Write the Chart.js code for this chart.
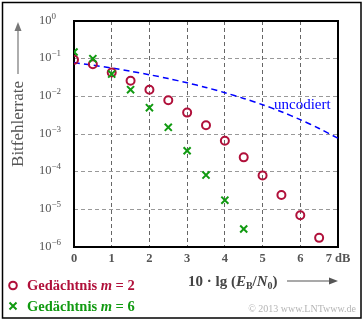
<!DOCTYPE html>
<html>
<head>
<meta charset="utf-8">
<script src="https://cdn.jsdelivr.net/npm/chart.js@4.4.1/dist/chart.umd.min.js"></script>
<style>
  html, body { margin: 0; padding: 0; background: #fff; }
  #wrap { width: 364px; height: 323px; position: relative; }
</style>
</head>
<body>
<div id="wrap"><canvas id="c" width="364" height="323"></canvas></div>
<script>
// Eb/N0 in dB and bit error rates
const snrUncoded = [0, 0.5, 1, 1.5, 2, 2.5, 3, 3.5, 4, 4.5, 5, 5.5, 6, 6.5, 7];
const berUncoded = [0.0786, 0.0671, 0.0563, 0.0464, 0.0375, 0.0296, 0.0229, 0.0172,
                    0.0125, 0.0088, 0.0060, 0.0039, 0.0024, 0.0014, 0.00077];

const snrM2 = [0, 0.5, 1, 1.5, 2, 2.5, 3, 3.5, 4, 4.5, 5, 5.5, 6, 6.5];
const berM2 = [0.093, 0.071, 0.043, 0.026, 0.015, 0.0079, 0.0037, 0.0017,
               0.00066, 0.00024, 7.9e-5, 2.4e-5, 7e-6, 1.75e-6];

const snrM6 = [0, 0.5, 1, 1.5, 2, 2.5, 3, 3.5, 4, 4.5];
const berM6 = [0.15, 0.10, 0.039, 0.015, 0.005, 0.0015, 0.00036, 8.1e-5, 1.75e-5, 3e-6];

const xTickLabels = ['0', '1', '2', '3', '4', '5', '6', '7 dB'];
const yExponents = [0, -1, -2, -3, -4, -5, -6];

const SERIF = '"Liberation Serif", "Times New Roman", serif';
const RED = '#b0103a';
const GREEN = '#119a11';
const BLUE = '#0000ff';

function toPoints(xs, ys) { return xs.map((x, i) => ({ x: x, y: ys[i] })); }

// draw a run of text pieces with individual fonts / vertical offsets
function drawRich(ctx, x, y, parts, color) {
  ctx.save();
  ctx.fillStyle = color;
  ctx.textBaseline = 'alphabetic';
  ctx.textAlign = 'left';
  for (const p of parts) {
    ctx.font = p.font;
    ctx.fillText(p.text, x, y + (p.dy || 0));
    x += ctx.measureText(p.text).width + (p.gap || 0);
  }
  ctx.restore();
  return x;
}

function arrow(ctx, x1, y1, x2, y2, color) {
  ctx.save();
  ctx.strokeStyle = color; ctx.fillStyle = color; ctx.lineWidth = 1.2;
  const a = Math.atan2(y2 - y1, x2 - x1);
  const hl = 9, hw = 3.5;
  const bx = x2 - hl * Math.cos(a), by = y2 - hl * Math.sin(a);
  ctx.beginPath(); ctx.moveTo(x1, y1); ctx.lineTo(bx, by); ctx.stroke();
  ctx.beginPath();
  ctx.moveTo(x2, y2);
  ctx.lineTo(bx + hw * Math.sin(a), by - hw * Math.cos(a));
  ctx.lineTo(bx - hw * Math.sin(a), by + hw * Math.cos(a));
  ctx.closePath(); ctx.fill();
  ctx.restore();
}

const decor = {
  id: 'decor',
  beforeDatasetsDraw(chart) {
    const { ctx, chartArea: a } = chart;
    ctx.save();
    ctx.strokeStyle = '#000';
    ctx.lineWidth = 2;
    ctx.strokeRect(a.left, a.top, a.right - a.left, a.bottom - a.top);
    ctx.restore();
  },
  afterDraw(chart) {
    const { ctx } = chart;
    const ys = chart.scales.y;

    // outer frame
    ctx.save();
    ctx.strokeStyle = '#000';
    ctx.lineWidth = 1.5;
    ctx.strokeRect(2.5, 2.5, 358.5, 315.5);
    ctx.restore();

    // y tick labels 10^k
    for (const e of yExponents) {
      const py = ys.getPixelForValue(Math.pow(10, e));
      const exp = e === 0 ? '0' : '\u2212' + (-e);
      drawRich(ctx, 39, py + 2.8, [
        { text: '10', font: '12.5px ' + SERIF },
        { text: exp, font: '9px ' + SERIF, dy: -5 }
      ], '#555');
    }

    // y axis title with arrow
    arrow(ctx, 18, 74, 18, 22, '#777');
    ctx.save();
    ctx.translate(23, 124);
    ctx.rotate(-Math.PI / 2);
    ctx.fillStyle = '#555';
    ctx.font = '17px ' + SERIF;
    ctx.textAlign = 'center';
    ctx.textBaseline = 'alphabetic';
    ctx.fillText('Bitfehlerrate', 0, 0);
    ctx.restore();

    // x axis title with arrow
    const B = 'bold 15px ' + SERIF, BI = 'italic bold 15px ' + SERIF, S = 'bold 10px ' + SERIF;
    drawRich(ctx, 188, 286, [
      { text: '10 \u00B7 lg (', font: B },
      { text: 'E', font: BI },
      { text: 'B', font: S, dy: 3 },
      { text: '/', font: B },
      { text: 'N', font: BI },
      { text: '0', font: S, dy: 3 },
      { text: ')', font: B }
    ], '#444');
    arrow(ctx, 287, 281, 338, 281, '#555');

    // curve label
    ctx.save();
    ctx.fillStyle = BLUE;
    ctx.font = '15px ' + SERIF;
    ctx.textBaseline = 'alphabetic';
    ctx.fillText('uncodiert', 274, 109);
    ctx.restore();

    // legend
    ctx.save();
    ctx.strokeStyle = RED; ctx.lineWidth = 2;
    ctx.beginPath(); ctx.arc(13, 285.5, 3.8, 0, Math.PI * 2); ctx.stroke();
    ctx.strokeStyle = GREEN;
    ctx.beginPath();
    ctx.moveTo(9.5, 302.5); ctx.lineTo(16.5, 309.5);
    ctx.moveTo(16.5, 302.5); ctx.lineTo(9.5, 309.5);
    ctx.stroke();
    ctx.restore();
    const LB = 'bold 14.5px ' + SERIF, LI = 'italic bold 14.5px ' + SERIF;
    drawRich(ctx, 27, 290, [
      { text: 'Gedächtnis ', font: LB },
      { text: 'm', font: LI },
      { text: ' = 2', font: LB }
    ], RED);
    drawRich(ctx, 27, 311, [
      { text: 'Gedächtnis ', font: LB },
      { text: 'm', font: LI },
      { text: ' = 6', font: LB }
    ], GREEN);

    // copyright
    ctx.save();
    ctx.fillStyle = '#b5b5b5';
    ctx.font = '10px ' + SERIF;
    ctx.textAlign = 'right';
    ctx.fillText('\u00A9 2013 www.LNTwww.de', 356, 312);
    ctx.restore();
  }
};

new Chart(document.getElementById('c'), {
  type: 'scatter',
  data: {
    datasets: [
      {
        label: 'uncodiert',
        data: toPoints(snrUncoded, berUncoded),
        showLine: true,
        pointRadius: 0,
        borderColor: BLUE,
        borderWidth: 1.5,
        borderDash: [6, 4],
        tension: 0.3,
        order: 3
      },
      {
        label: 'Gedächtnis m = 2',
        data: toPoints(snrM2, berM2),
        pointStyle: 'circle',
        pointRadius: 4,
        pointBorderWidth: 2,
        borderColor: RED,
        backgroundColor: 'rgba(0,0,0,0)',
        order: 2
      },
      {
        label: 'Gedächtnis m = 6',
        data: toPoints(snrM6, berM6),
        pointStyle: 'crossRot',
        pointRadius: 5,
        pointBorderWidth: 2,
        borderColor: GREEN,
        backgroundColor: GREEN,
        order: 1
      }
    ]
  },
  options: {
    responsive: false,
    animation: false,
    devicePixelRatio: 1,
    layout: { padding: { left: 0, right: 26, top: 21, bottom: 0 } },
    plugins: { legend: { display: false }, tooltip: { enabled: false } },
    scales: {
      x: {
        type: 'linear', min: 0, max: 7,
        afterFit(s) { s.height = 76; },
        ticks: {
          stepSize: 1,
          padding: 4,
          color: '#555',
          font: { family: SERIF, size: 12.5, weight: 'bold' },
          callback: (v) => xTickLabels[Math.round(v)]
        },
        grid: { color: '#666', lineWidth: 1, drawTicks: false },
        border: { display: false, dash: [4, 3] }
      },
      y: {
        type: 'logarithmic', min: 1e-6, max: 1,
        afterFit(s) { s.width = 74; },
        afterBuildTicks(s) { s.ticks = yExponents.map(e => ({ value: Math.pow(10, e) })); },
        ticks: { display: false },
        grid: { color: '#999', lineWidth: 1, drawTicks: false },
        border: { display: false, dash: [4, 3] }
      }
    }
  },
  plugins: [decor]
});
</script>
</body>
</html>
